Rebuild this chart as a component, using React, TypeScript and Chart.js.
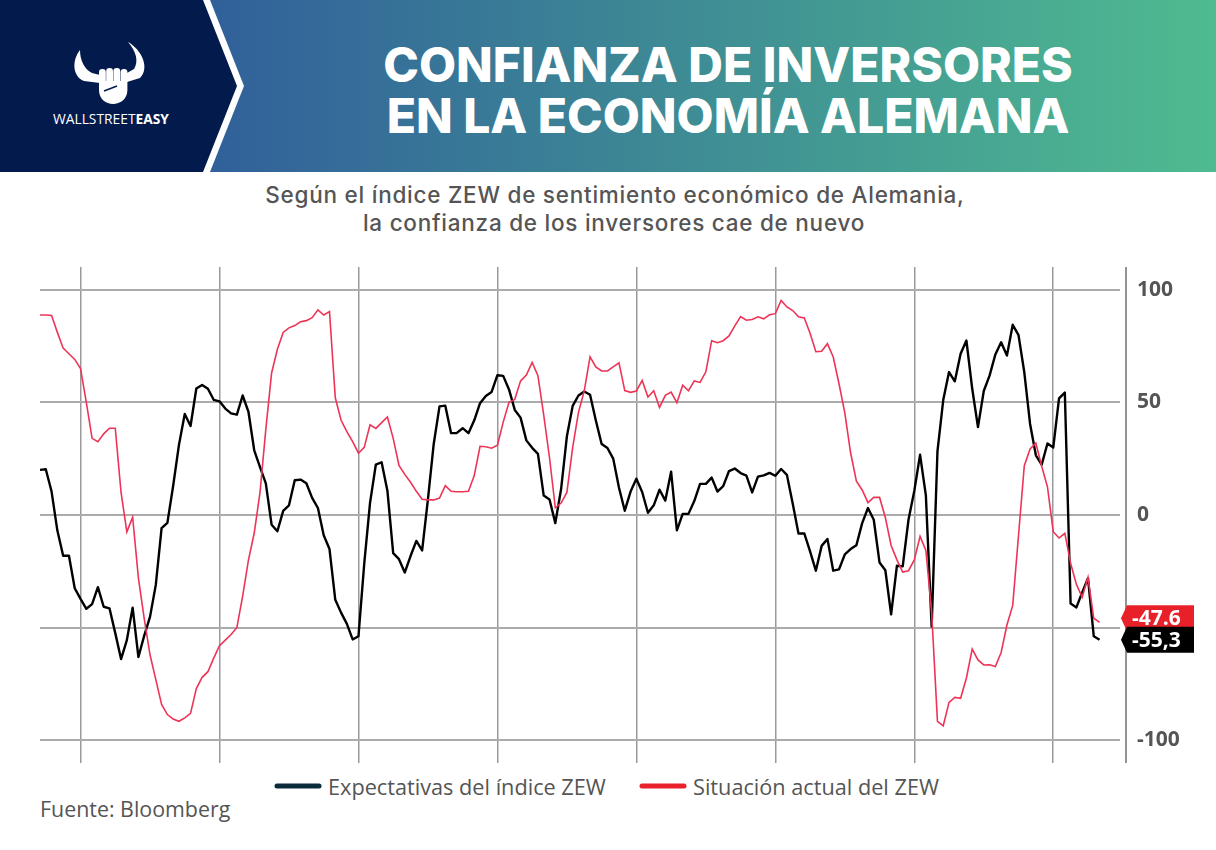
import { useEffect, useRef } from "react";
import { Chart, registerables } from "chart.js";

Chart.register(...registerables);

// ---- Data (monthly, May 2007 – Aug 2022) ----
const START_YEAR = 2007;
const START_MONTH = 5;

const expectativas = [
  // 2007 May–Dec
  20.0, 20.3, 10.4, -6.9, -18.1, -18.1, -32.5, -37.2,
  // 2008
  -41.6, -39.5, -32.0, -40.7, -41.4, -52.4, -63.9, -55.5, -41.1, -63.0, -53.5, -45.2,
  // 2009
  -31.0, -5.8, -3.5, 13.0, 31.1, 44.8, 39.5, 56.1, 57.7, 56.0, 51.1, 50.4,
  // 2010
  47.2, 45.1, 44.5, 53.0, 45.8, 28.7, 21.2, 14.0, -4.3, -7.2, 1.8, 4.3,
  // 2011
  15.4, 15.7, 14.1, 7.6, 3.1, -9.0, -15.1, -37.6, -43.3, -48.3, -55.2, -53.8,
  // 2012
  -21.6, 5.4, 22.3, 23.4, 10.8, -16.9, -19.6, -25.5, -18.2, -11.5, -15.7, 6.9,
  // 2013
  31.5, 48.2, 48.5, 36.3, 36.4, 38.5, 36.3, 42.0, 49.6, 52.8, 54.6, 62.0,
  // 2014
  61.7, 55.7, 46.6, 43.2, 33.1, 29.8, 27.1, 8.6, 6.9, -3.6, 11.5, 34.9,
  // 2015
  48.4, 53.0, 54.8, 53.3, 41.9, 31.5, 29.7, 25.0, 12.1, 1.9, 10.4, 16.1,
  // 2016
  10.2, 1.0, 4.3, 11.2, 6.4, 19.2, -6.8, 0.5, 0.5, 6.2, 13.8, 13.8,
  // 2017
  16.6, 10.4, 12.8, 19.5, 20.6, 18.6, 17.5, 10.0, 17.0, 17.6, 18.7, 17.4,
  // 2018
  20.4, 17.8, 5.1, -8.2, -8.2, -16.1, -24.7, -13.7, -10.6, -24.7, -24.1, -17.5,
  // 2019
  -15.1, -13.4, -3.6, 3.1, -2.1, -21.1, -24.5, -44.1, -22.5, -22.8, -2.1, 10.7,
  // 2020
  26.7, 8.7, -49.5, 28.2, 51.0, 63.4, 59.3, 71.5, 77.4, 56.1, 39.0, 55.0,
  // 2021
  61.8, 71.2, 76.6, 70.7, 84.4, 79.8, 63.3, 40.4, 26.5, 22.3, 31.7, 29.9,
  // 2022 Jan–Aug
  51.7, 54.3, -39.3, -41.0, -34.3, -28.0, -53.8, -55.3,
];

const situacionActual = [
  // 2007 May–Dec
  88.7, 88.7, 88.5, 81.0, 74.0, 71.5, 69.0, 65.0,
  // 2008
  50.0, 34.0, 32.5, 36.0, 38.5, 38.5, 10.0, -7.5, -1.0, -28.0, -46.0, -62.0,
  // 2009
  -73.0, -84.0, -88.5, -90.5, -91.5, -90.0, -88.0, -77.0, -72.0, -69.5, -63.5, -58.0,
  // 2010
  -55.5, -53.0, -50.0, -36.0, -20.0, -8.0, 10.0, 38.0, 63.0, 73.5, 81.0, 83.0,
  // 2011
  84.0, 85.7, 86.2, 87.5, 91.0, 88.7, 90.2, 52.0, 42.0, 37.0, 32.5, 27.4,
  // 2012
  30.0, 40.0, 38.4, 41.0, 43.5, 34.0, 22.0, 18.0, 14.5, 10.5, 7.0, 6.7,
  // 2013
  6.7, 7.5, 13.0, 10.5, 10.3, 10.3, 10.5, 17.5, 30.5, 30.3, 29.6, 31.0,
  // 2014
  41.2, 50.0, 51.3, 59.5, 62.1, 67.7, 61.8, 44.3, 25.4, 3.2, 5.3, 10.0,
  // 2015
  30.0, 45.5, 55.1, 70.2, 65.7, 63.9, 63.9, 65.7, 67.5, 55.2, 54.4, 55.0,
  // 2016
  59.7, 52.3, 55.1, 47.7, 53.1, 54.5, 49.8, 57.6, 55.1, 59.5, 58.8, 63.5,
  // 2017
  77.3, 76.4, 77.3, 79.4, 83.9, 88.0, 86.4, 86.7, 87.9, 87.0, 88.8, 89.3,
  // 2018
  95.2, 92.3, 90.7, 87.9, 87.4, 80.6, 72.4, 72.6, 76.0, 70.1, 58.2, 45.3,
  // 2019
  27.6, 15.0, 11.1, 5.5, 7.8, 7.8, -1.1, -13.5, -19.9, -25.3, -24.7, -19.9,
  // 2020
  -9.5, -15.7, -43.1, -91.5, -93.5, -83.1, -80.9, -81.3, -72.3, -59.5, -64.3, -66.5,
  // 2021
  -66.4, -67.2, -61.0, -48.8, -40.1, -9.1, 21.9, 29.3, 31.9, 21.6, 12.5, -7.4,
  // 2022 Jan–Aug
  -10.2, -8.1, -21.4, -30.8, -36.5, -27.6, -45.8, -47.6,
];

const yTicks = [-100, -50, 0, 50, 100];
const yTickLabels = ["-100", "", "0", "50", "100"];
const xGridYears = [2008, 2010, 2012, 2014, 2016, 2018, 2020, 2022];
const endLabels = ["-55,3", "-47.6"]; // expectativas, situación
const seriesNames = ["Expectativas del índice ZEW", "Situación actual del ZEW"];

// month-end position in decimal years
const monthPos = expectativas.map((_, i) => START_YEAR + (START_MONTH + i) / 12);

const BLACK = "#000000";
const RED_LINE = "#ee3456";
const RED_BOX = "#e8202a";

const endLabelPlugin = {
  id: "endLabelPlugin",
  afterDatasetsDraw(chart: any) {
    const { ctx, chartArea, scales } = chart;
    const y = scales.y;
    ctx.save();
    // right axis line
    ctx.strokeStyle = "#7a7a7a";
    ctx.lineWidth = 1.6;
    ctx.beginPath();
    ctx.moveTo(chartArea.right + 6, chartArea.top);
    ctx.lineTo(chartArea.right + 6, chartArea.bottom);
    ctx.stroke();

    const boxes = [
      { v: situacionActual[situacionActual.length - 1], text: endLabels[1], color: RED_BOX, dy: -4 },
      { v: expectativas[expectativas.length - 1], text: endLabels[0], color: BLACK, dy: 0 },
    ];
    const tip = chartArea.right + 1;
    const bodyL = tip + 6;
    const right = tip + 73;
    const h = 26;
    for (const b of boxes) {
      const cy = y.getPixelForValue(b.v) + b.dy;
      ctx.fillStyle = b.color;
      ctx.beginPath();
      ctx.moveTo(tip, cy);
      ctx.lineTo(bodyL, cy - h / 2);
      ctx.lineTo(right, cy - h / 2);
      ctx.lineTo(right, cy + h / 2);
      ctx.lineTo(bodyL, cy + h / 2);
      ctx.closePath();
      ctx.fill();
      ctx.fillStyle = "#ffffff";
      ctx.font = "700 21px 'Open Sans'";
      ctx.textAlign = "left";
      ctx.textBaseline = "middle";
      ctx.fillText(b.text, bodyL + 5, cy + 1);
    }
    ctx.restore();
  },
};

function ZewChart() {
  const ref = useRef<HTMLCanvasElement | null>(null);
  useEffect(() => {
    if (!ref.current) return;
    const chart = new Chart(ref.current, {
      type: "line",
      data: {
        datasets: [
          {
            label: seriesNames[1],
            data: situacionActual.map((v, i) => ({ x: monthPos[i], y: v })),
            borderColor: RED_LINE,
            borderWidth: 1.6,
            pointRadius: 0,
            tension: 0,
            order: 0,
          },
          {
            label: seriesNames[0],
            data: expectativas.map((v, i) => ({ x: monthPos[i], y: v })),
            borderColor: BLACK,
            borderWidth: 2.4,
            pointRadius: 0,
            tension: 0,
            borderJoinStyle: "round",
            order: 1,
          },
        ],
      },
      options: {
        responsive: false,
        animation: false,
        layout: { padding: { left: 40, top: 17, right: 0, bottom: 17 } },
        plugins: { legend: { display: false }, tooltip: { enabled: false } },
        scales: {
          x: {
            type: "linear",
            min: START_YEAR + START_MONTH / 12,
            max: START_YEAR + START_MONTH / 12 + 1080 / 69.48,
            afterBuildTicks: (s: any) => {
              s.ticks = xGridYears.map((v) => ({ value: v }));
            },
            afterFit: (s: any) => {
              s.height = 0;
              s.paddingLeft = 0;
              s.paddingRight = 0;
              s.paddingTop = 0;
              s.paddingBottom = 0;
            },
            ticks: { display: false },
            grid: { color: "#9a9a9a", lineWidth: 1.5, drawTicks: false },
            border: { display: false },
          },
          y: {
            position: "right",
            min: -110,
            max: 110,
            afterBuildTicks: (s: any) => {
              s.ticks = yTicks.map((v) => ({ value: v }));
            },
            afterFit: (s: any) => {
              s.width = 96;
              s.paddingTop = 0;
              s.paddingBottom = 0;
              s.paddingLeft = 0;
              s.paddingRight = 0;
            },
            ticks: {
              padding: 17,
              color: "#555555",
              font: { family: "'Open Sans'", size: 21, weight: "bold" },
              callback: (v: any) => {
                const i = yTicks.indexOf(Number(v));
                return i >= 0 ? yTickLabels[i] : "";
              },
            },
            grid: { color: "#ababab", lineWidth: 2, drawTicks: false },
            border: { display: false },
          },
        },
      },
      plugins: [endLabelPlugin],
    });
    return () => chart.destroy();
  }, []);
  return (
    <canvas
      ref={ref}
      width={1216}
      height={530}
      style={{ position: "absolute", left: 0, top: 250, width: 1216, height: 530 }}
    />
  );
}

function Header() {
  return (
    <svg width={1216} height={850} style={{ position: "absolute", left: 0, top: 0 }}>
      <defs>
        <linearGradient id="hdr" x1="210" y1="0" x2="1216" y2="0" gradientUnits="userSpaceOnUse">
          <stop offset="0" stopColor="#31609a" />
          <stop offset="0.5" stopColor="#3f8e94" />
          <stop offset="1" stopColor="#4fbb90" />
        </linearGradient>
      </defs>
      <rect x={0} y={0} width={1216} height={172} fill="url(#hdr)" />
      <polygon points="0,0 210,0 244,86 210,172 0,172" fill="#ffffff" />
      <polygon points="0,0 203,0 237,86 203,172 0,172" fill="#021a4c" />
      {/* logo */}
      <path d="M80 50 C72 60, 72 76, 84 81 L100 83 L100 75 L92 73 C84 69, 80 60, 80 50 Z" fill="#fff" />
      <path d="M128 42 C142 50, 150 68, 140 78 L127 82 L127 73 L134 69 C139 61, 136 51, 128 42 Z" fill="#fff" />
      <rect x={99} y={69} width={6.8} height={15} rx={3.2} fill="#fff" />
      <rect x={106.2} y={68} width={6.8} height={16} rx={3.2} fill="#fff" />
      <rect x={113.4} y={68} width={6.8} height={16} rx={3.2} fill="#fff" />
      <rect x={120.6} y={69} width={6.8} height={15} rx={3.2} fill="#fff" />
      <path d="M99 81 L127.4 81 L127.4 90 C127.4 99, 120 104, 113 104 C106 104, 99 99, 99 90 Z" fill="#fff" />
      <path d="M104 91 L117 86" stroke="#021a4c" strokeWidth={1.5} fill="none" />
      <text x={53} y={124} fontFamily="'Open Sans'" fontSize={13.8} fill="#ffffff">
        WALLSTREET<tspan fontWeight={700}>EASY</tspan>
      </text>
      {/* title */}
      <text x={728} y={82} textAnchor="middle" fontFamily="Inter" fontWeight={800} fontSize={48} fill="#ffffff">
        CONFIANZA DE INVERSORES
      </text>
      <text x={728} y={133} textAnchor="middle" fontFamily="Inter" fontWeight={800} fontSize={48} fill="#ffffff">
        EN LA ECONOMÍA ALEMANA
      </text>
      {/* subtitle */}
      <text x={615} y={203} textAnchor="middle" fontFamily="Inter" fontWeight={500} fontSize={22.5} fill="#555555" letterSpacing={0.75}>
        Según el índice ZEW de sentimiento económico de Alemania,
      </text>
      <text x={614} y={231} textAnchor="middle" fontFamily="Inter" fontWeight={500} fontSize={22.5} fill="#555555" letterSpacing={0.75}>
        la confianza de los inversores cae de nuevo
      </text>
      {/* legend */}
      <line x1={277} y1={786} x2={319} y2={786} stroke="#0b2b3b" strokeWidth={5} strokeLinecap="round" />
      <text x={328} y={795} fontFamily="'Open Sans'" fontSize={21.7} fill="#555555">
        {seriesNames[0]}
      </text>
      <line x1={642} y1={786} x2={684} y2={786} stroke="#e8212a" strokeWidth={5} strokeLinecap="round" />
      <text x={693} y={795} fontFamily="'Open Sans'" fontSize={21.7} fill="#555555">
        {seriesNames[1]}
      </text>
      {/* source */}
      <text x={40} y={817} fontFamily="'Open Sans'" fontSize={21.4} fill="#555555">
        Fuente: Bloomberg
      </text>
    </svg>
  );
}

export default function App() {
  return (
    <div style={{ position: "absolute", left: 0, top: 0, width: 1216, height: 850, background: "#ffffff", overflow: "hidden" }}>
      <Header />
      <ZewChart />
    </div>
  );
}
